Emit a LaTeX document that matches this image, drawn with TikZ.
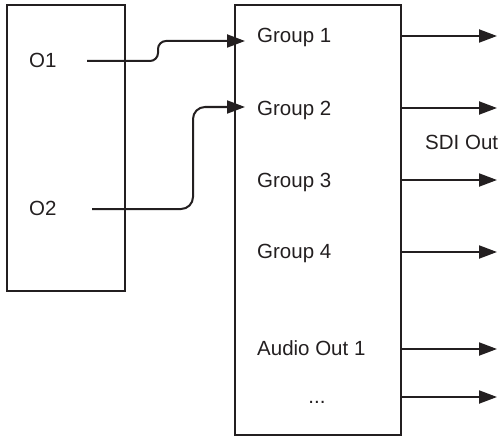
\documentclass[tikz,border=0pt]{standalone}
\usepackage{fontspec}
\setmainfont{Liberation Sans}
\usetikzlibrary{arrows.meta}
\definecolor{ink}{HTML}{231F20}
\tikzset{
  box/.style={draw=ink, line width=2pt, anchor=north west, inner sep=0pt},
  lbl/.style={anchor=base west, inner sep=0pt, text=ink, font=\fontsize{20.5}{24}\selectfont},
  conn/.style={draw=ink, line width=2pt, -{Triangle[length=18pt,width=13pt]}},
}
\begin{document}
\begin{tikzpicture}[x=1pt,y=-1pt]
\useasboundingbox (0,0) rectangle (501,436);
% boxes
\node[box, minimum width=118pt, minimum height=286pt] (lbox) at (6,4) {};
\node[box, minimum width=166pt, minimum height=430pt] (rbox) at (234,4) {};
% left labels
\node[lbl] (o1) at (29,67) {O1};
\node[lbl] (o2) at (29,215) {O2};
% right labels
\node[lbl] (g1) at (257,43) {Group 1};
\node[lbl] (g2) at (257,115) {Group 2};
\node[lbl] (g3) at (257,187) {Group 3};
\node[lbl] (g4) at (257,258) {Group 4};
\node[lbl] (ao) at (257,355) {Audio Out 1};
\node[lbl, anchor=base] (dots) at (317,403) {...};
\node[lbl] (sdi) at (425,149) {SDI Out};
% input connector points
\coordinate (o1s) at (87,61);
\coordinate (o2s) at (92,209);
\coordinate (g1in) at (245,41);
\coordinate (g2in) at (245,107);
% input connectors
\draw[conn, rounded corners=8pt] (o1s) -- (158,61) -- (158,41) -- (g1in);
\draw[conn, rounded corners=12pt] (o2s) -- (193,209) -- (193,107) -- (g2in);
% outputs
\foreach \n/\y in {a/36,b/108,c/180,d/252,e/349,f/397}{
  \coordinate (s\n) at (400,\y);
  \coordinate (t\n) at (497,\y);
  \draw[conn] (s\n) -- (t\n);
}
\end{tikzpicture}
\end{document}
